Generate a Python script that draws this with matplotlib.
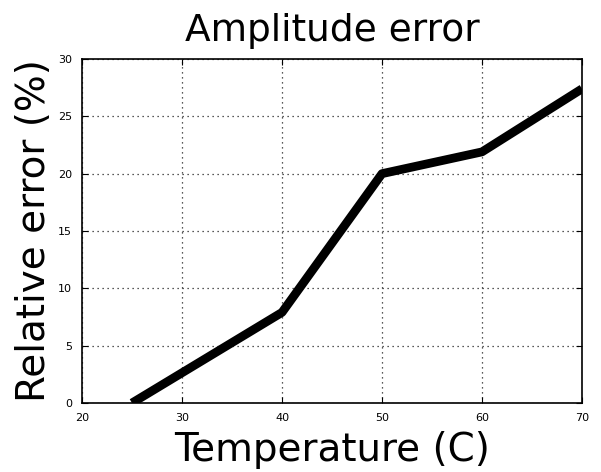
import matplotlib
matplotlib.use("Agg")
import matplotlib.pyplot as plt

temperature = [25, 40, 50, 60, 70]
rel_error = [0, 7.9, 20.0, 21.9, 27.4]
xticks = [20, 30, 40, 50, 60, 70]
yticks = [0, 5, 10, 15, 20, 25, 30]

fig = plt.figure(figsize=(6.01, 4.72), dpi=100)
ax = fig.add_axes([82/601, 1-403/472, 500/601, 344/472])
ax.plot(temperature, rel_error, color="black", lw=6.3, solid_capstyle="butt")
ax.set_xlim(20, 70)
ax.set_ylim(0, 30)
ax.set_xticks(xticks)
ax.set_yticks(yticks)
ax.grid(True, linestyle=(0, (1, 3)), color="#222222", lw=0.9)
ax.tick_params(direction="in", top=True, right=True, labelsize=8, length=4, pad=7)
for s in ax.spines.values():
    s.set_linewidth(1.2)
ax.set_title("Amplitude error", fontsize=27, pad=13)
ax.set_xlabel("Temperature (C)", fontsize=28, labelpad=6)
ax.set_ylabel("Relative error (%)", fontsize=28, labelpad=4)
fig.savefig("out.png", dpi=100)
